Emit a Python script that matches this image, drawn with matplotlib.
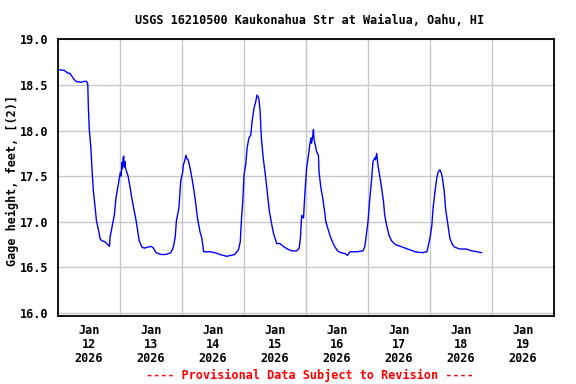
import matplotlib
matplotlib.use("Agg")
import matplotlib.pyplot as plt

# gage height readings, time in days since Jan 12 2026 00:00
days = [0.00, 0.10, 0.16, 0.19, 0.25, 0.29, 0.37, 0.42, 0.46, 0.48,
        0.49, 0.505, 0.53, 0.55, 0.57, 0.60, 0.62, 0.65, 0.68, 0.71,
        0.76, 0.80, 0.83, 0.84, 0.87, 0.91, 0.935, 0.96, 0.99, 1.005,
        1.02, 1.03, 1.04, 1.05, 1.06, 1.07, 1.08, 1.09, 1.11, 1.13,
        1.16, 1.19, 1.23, 1.26, 1.285, 1.31, 1.355, 1.39, 1.45, 1.50,
        1.54, 1.58, 1.66, 1.74, 1.82, 1.86, 1.89, 1.91, 1.95, 1.98,
        2.01, 2.02, 2.04, 2.065, 2.08, 2.10, 2.13, 2.17, 2.21, 2.25,
        2.29, 2.32, 2.35, 2.45, 2.53, 2.61, 2.72, 2.85, 2.91, 2.94,
        2.96, 2.98, 3.00, 3.03, 3.05, 3.08, 3.11, 3.13, 3.16, 3.19,
        3.21, 3.24, 3.26, 3.28, 3.31, 3.35, 3.38, 3.41, 3.45, 3.48,
        3.53, 3.58, 3.63, 3.70, 3.77, 3.85, 3.89, 3.91, 3.93, 3.96,
        3.98, 4.01, 4.04, 4.06, 4.08, 4.09, 4.11, 4.12, 4.13, 4.15,
        4.17, 4.20, 4.21, 4.24, 4.27, 4.30, 4.32, 4.35, 4.39, 4.42,
        4.46, 4.51, 4.56, 4.63, 4.67, 4.71, 4.82, 4.92, 4.95, 4.98,
        5.00, 5.03, 5.06, 5.08, 5.11, 5.12, 5.14, 5.16, 5.19, 5.22,
        5.25, 5.27, 5.30, 5.34, 5.38, 5.44, 5.52, 5.60, 5.68, 5.76,
        5.87, 5.95, 5.97, 6.00, 6.03, 6.05, 6.08, 6.11, 6.13, 6.16,
        6.18, 6.20, 6.23, 6.25, 6.29, 6.32, 6.36, 6.40, 6.48, 6.59,
        6.67, 6.76, 6.83]
gage_ft = [18.67, 18.66, 18.63, 18.63, 18.57, 18.54, 18.53, 18.54, 18.54, 18.51,
           18.25, 18.01, 17.81, 17.56, 17.34, 17.15, 17.01, 16.92, 16.81, 16.79,
           16.78, 16.75, 16.73, 16.83, 16.94, 17.08, 17.26, 17.36, 17.48, 17.54,
           17.50, 17.65, 17.58, 17.70, 17.72, 17.60, 17.66, 17.59, 17.54, 17.50,
           17.39, 17.26, 17.12, 17.01, 16.90, 16.79, 16.72, 16.71, 16.72, 16.73,
           16.71, 16.66, 16.64, 16.64, 16.66, 16.72, 16.83, 17.01, 17.15, 17.45,
           17.54, 17.62, 17.66, 17.73, 17.69, 17.68, 17.59, 17.44, 17.26, 17.04,
           16.89, 16.82, 16.67, 16.67, 16.66, 16.64, 16.62, 16.64, 16.69, 16.78,
           17.04, 17.22, 17.51, 17.64, 17.81, 17.92, 17.95, 18.10, 18.24, 18.32,
           18.39, 18.35, 18.21, 17.92, 17.70, 17.48, 17.29, 17.11, 16.96, 16.86,
           16.76, 16.76, 16.73, 16.70, 16.68, 16.68, 16.71, 16.82, 17.07, 17.04,
           17.29, 17.59, 17.73, 17.84, 17.92, 17.86, 17.95, 18.01, 17.90, 17.84,
           17.77, 17.73, 17.55, 17.37, 17.26, 17.11, 17.00, 16.93, 16.84, 16.79,
           16.73, 16.68, 16.66, 16.65, 16.63, 16.67, 16.67, 16.68, 16.73, 16.89,
           17.00, 17.26, 17.48, 17.66, 17.70, 17.68, 17.75, 17.62, 17.50, 17.37,
           17.22, 17.07, 16.96, 16.85, 16.79, 16.75, 16.73, 16.71, 16.69, 16.67,
           16.66, 16.67, 16.73, 16.82, 16.96, 17.15, 17.33, 17.48, 17.54, 17.57,
           17.54, 17.48, 17.33, 17.15, 16.96, 16.82, 16.75, 16.72, 16.70, 16.70,
           16.68, 16.67, 16.66]

tick_days = [0.5, 1.5, 2.5, 3.5, 4.5, 5.5, 6.5, 7.5]
tick_labels = ["Jan\n12\n2026", "Jan\n13\n2026", "Jan\n14\n2026", "Jan\n15\n2026",
               "Jan\n16\n2026", "Jan\n17\n2026", "Jan\n18\n2026", "Jan\n19\n2026"]
grid_days = [1, 2, 3, 4, 5, 6, 7]
y_ticks = [16.0, 16.5, 17.0, 17.5, 18.0, 18.5, 19.0]

plt.rcParams['font.family'] = ['DejaVu Sans Mono']
plt.rcParams['font.weight'] = 'bold'
fs = 8.5

fig = plt.figure(figsize=(5.76, 3.84), dpi=100)
ax = fig.add_axes([58/576, 1 - 316/384, 496/576, 277/384])

ax.plot(days, gage_ft, color='#0000FF', linewidth=1.0)

ax.set_xlim(0, 8)
ax.set_ylim(15.965, 19.005)

ax.set_xticks(tick_days)
ax.set_xticklabels(tick_labels, fontsize=fs, fontweight='bold', linespacing=1.1)
ax.set_xticks(grid_days, minor=True)
ax.set_yticks(y_ticks)
ax.set_yticklabels(["%.1f" % v for v in y_ticks], fontsize=fs, fontweight='bold')
ax.tick_params(axis='x', which='both', length=0, pad=6)
ax.tick_params(axis='y', length=0, pad=7)

ax.grid(True, axis='x', which='minor', color='#C8C8C8', linewidth=1.0)
ax.grid(True, axis='y', which='major', color='#C8C8C8', linewidth=1.0)
ax.set_axisbelow(True)
for s in ax.spines.values():
    s.set_linewidth(1.3)
    s.set_color('black')

ax.set_ylabel("Gage height, feet, [(2)]", fontsize=fs, fontweight='bold', va='center')
ax.yaxis.set_label_coords(-0.092, 0.49)
fig.text(310/576, 1 - 20/384, "USGS 16210500 Kaukonahua Str at Waialua, Oahu, HI",
         ha='center', va='center', fontsize=fs, fontweight='bold')
fig.text(310/576, 1 - 375/384, "---- Provisional Data Subject to Revision ----",
         ha='center', va='center', fontsize=fs, fontweight='bold', color='#FF0000')

fig.savefig("out.png", dpi=100)
